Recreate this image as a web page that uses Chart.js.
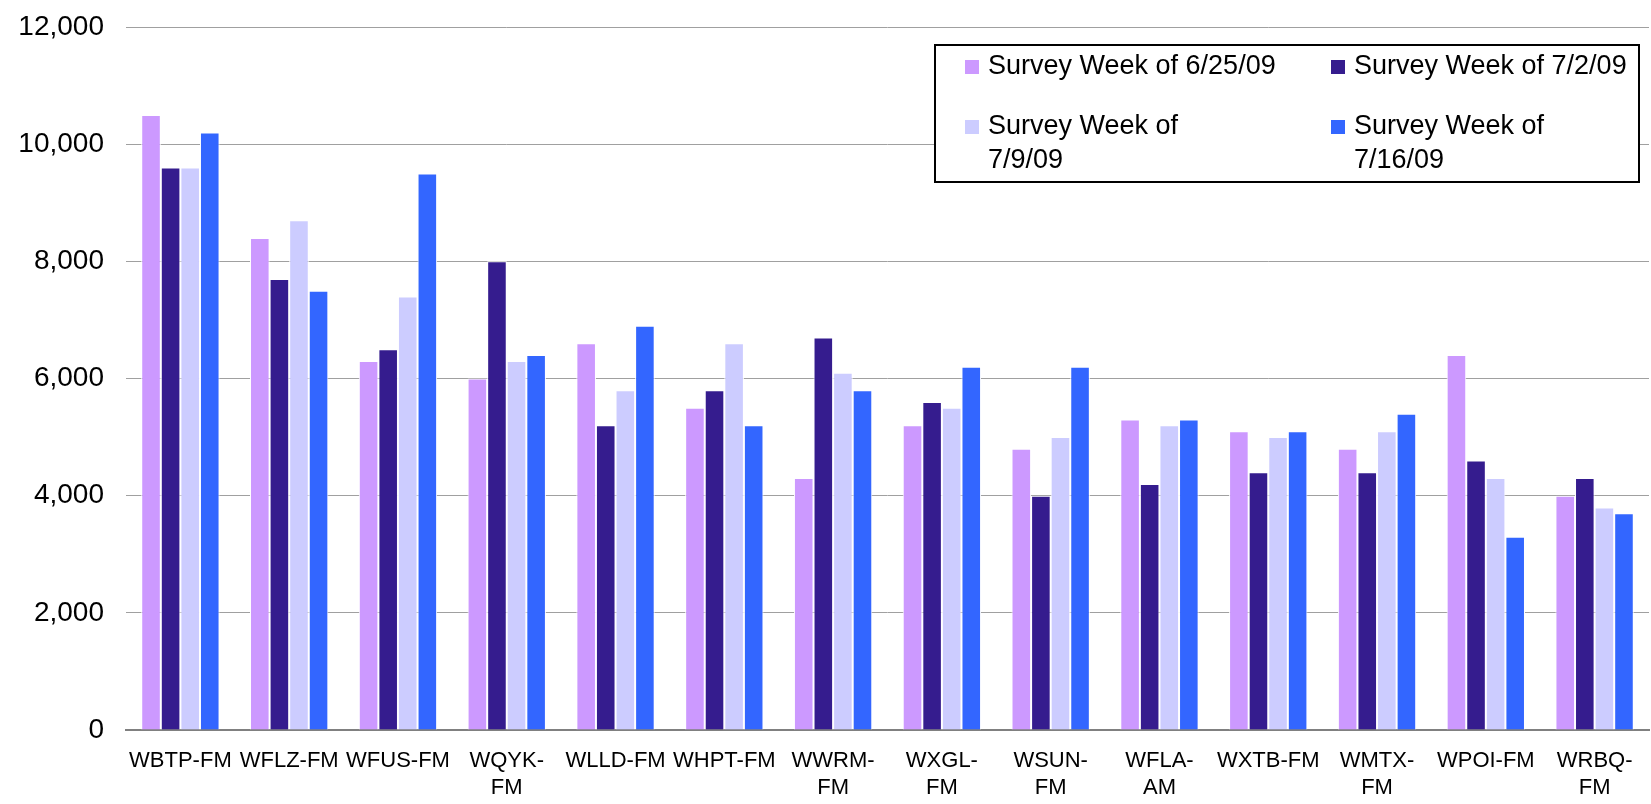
<!DOCTYPE html>
<html>
<head>
<meta charset="utf-8">
<script src="https://cdn.jsdelivr.net/npm/chart.js@4.4.1/dist/chart.umd.min.js"></script>
<style>
  html, body { margin: 0; padding: 0; background: #fff; }
  #wrap { width: 1651px; height: 804px; position: relative; }
</style>
</head>
<body>
<div id="wrap"><canvas id="myChart"></canvas></div>
<script>
const stations = ['WBTP-FM', 'WFLZ-FM', 'WFUS-FM', ['WQYK-', 'FM'], 'WLLD-FM', 'WHPT-FM', ['WWRM-', 'FM'],
    ['WXGL-', 'FM'], ['WSUN-', 'FM'], ['WFLA-', 'AM'], 'WXTB-FM', ['WMTX-', 'FM'], 'WPOI-FM', ['WRBQ-', 'FM']];

const week0625 = [10500, 8400, 6300, 6000, 6600, 5500, 4300, 5200, 4800, 5300, 5100, 4800, 6400, 4000];
const week0702 = [9600, 7700, 6500, 8000, 5200, 5800, 6700, 5600, 4000, 4200, 4400, 4400, 4600, 4300];
const week0709 = [9600, 8700, 7400, 6300, 5800, 6600, 6100, 5500, 5000, 5200, 5000, 5100, 4300, 3800];
const week0716 = [10200, 7500, 9500, 6400, 6900, 5200, 5800, 6200, 6200, 5300, 5100, 5400, 3300, 3700];

// legend text, already broken into lines like the original
const legendLines = [
    ['Survey Week of 6/25/09'],
    ['Survey Week of 7/2/09'],
    ['Survey Week of', '7/9/09'],
    ['Survey Week of', '7/16/09']
];
const colors = ['#CC99FF', '#351C8E', '#CCCCFF', '#3366FF'];
const yTicks = [0, 2000, 4000, 6000, 8000, 10000, 12000];

const FONT = '"Liberation Sans", Arial, sans-serif';

// draws the boxed legend in the top right corner
const boxLegend = {
    id: 'boxLegend',
    afterDraw(chart) {
        const ctx = chart.ctx;
        const left = 935, top = 45, right = 1639, bottom = 182;
        ctx.save();
        ctx.fillStyle = '#fff';
        ctx.fillRect(left, top, right - left, bottom - top);
        ctx.strokeStyle = '#000';
        ctx.lineWidth = 2;
        ctx.strokeRect(left, top, right - left, bottom - top);

        ctx.font = '27px ' + FONT;
        ctx.textBaseline = 'middle';
        const colX = [965, 1331];
        const rowY = [67, 127];
        chart.data.datasets.forEach((ds, i) => {
            const x = colX[i % 2];
            const y = rowY[Math.floor(i / 2)];
            ctx.fillStyle = ds.backgroundColor;
            ctx.fillRect(x, y - 7, 14, 14);
            ctx.fillStyle = '#000';
            legendLines[i].forEach((line, j) => {
                ctx.fillText(line, x + 23, y + j * 34);
            });
        });
        ctx.restore();
    }
};

const ctx = document.getElementById('myChart');

new Chart(ctx, {
    type: 'bar',
    data: {
        labels: stations,
        datasets: [week0625, week0702, week0709, week0716].map((vals, i) => ({
            label: legendLines[i].join(' '),
            data: vals,
            backgroundColor: colors[i],
            borderColor: '#ffffff',
            borderWidth: 1,
            borderSkipped: 'bottom',
            barPercentage: 1.0,
            categoryPercentage: 0.72
        }))
    },
    options: {
        responsive: true,
        maintainAspectRatio: false,
        animation: false,
        layout: { padding: { top: 27, right: 2, left: 0, bottom: 0 } },
        plugins: {
            legend: { display: false },
            tooltip: { enabled: false }
        },
        scales: {
            x: {
                grid: { display: false },
                border: { display: true, color: '#808080', width: 2 },
                ticks: {
                    color: '#000',
                    font: { family: FONT, size: 22 },
                    maxRotation: 0,
                    autoSkip: false,
                    padding: 10
                },
                afterFit: (s) => { s.height = 74; }
            },
            y: {
                min: 0,
                max: 12000,
                afterBuildTicks: (s) => { s.ticks = yTicks.map(v => ({ value: v })); },
                grid: { color: '#a0a0a0', lineWidth: 1, drawTicks: false },
                border: { display: false },
                ticks: {
                    color: '#000',
                    font: { family: FONT, size: 28 },
                    padding: 22,
                    callback: (v) => v.toLocaleString('en-US')
                },
                afterFit: (s) => {
                    s.width = 126;
                    s.paddingTop = 0;
                    s.paddingBottom = 0;
                }
            }
        }
    },
    plugins: [boxLegend]
});
</script>
</body>
</html>
